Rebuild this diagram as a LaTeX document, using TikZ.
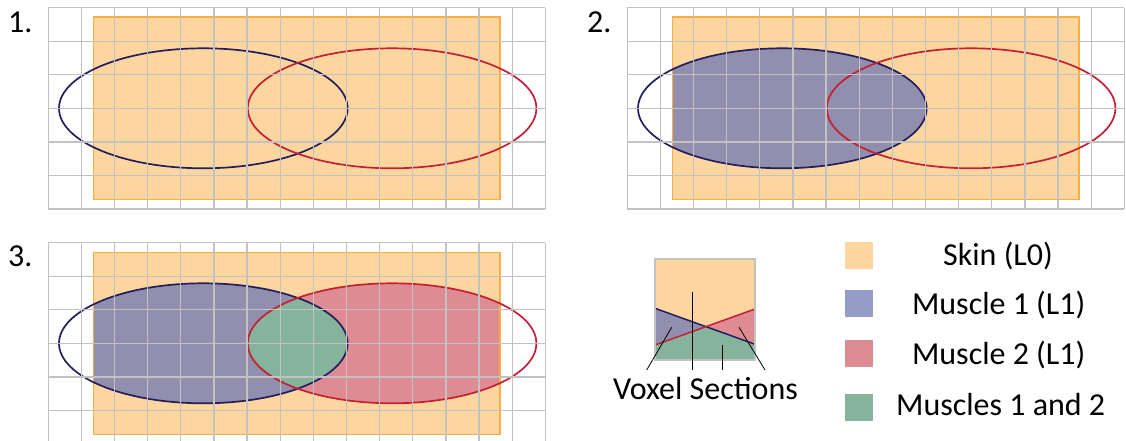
\documentclass[tikz,border=0pt]{standalone}
\usepackage{fontspec}
\setmainfont{Carlito}
\definecolor{skinfill}{HTML}{FCD69E}
\definecolor{skinedge}{HTML}{F8AE42}
\definecolor{gridgray}{HTML}{C2C2C2}
\definecolor{navy}{HTML}{231F5E}
\definecolor{crimson}{HTML}{C41F35}
\definecolor{purplefill}{HTML}{928EAE}
\definecolor{pinkfill}{HTML}{DE8B93}
\definecolor{greenfill}{HTML}{86B39B}
\definecolor{legpurple}{HTML}{959CC8}
\definecolor{legpink}{HTML}{DE8C94}
\tikzset{
  gridline/.style={draw=gridgray, line width=1.3pt},
  skinrect/.style={fill=skinfill},
  skinborder/.style={draw=skinedge, line width=1.6pt},
  blueline/.style={draw=navy, line width=1.7pt},
  redline/.style={draw=crimson, line width=1.7pt},
  bigtext/.style={font=\fontsize{32}{38}\selectfont, inner sep=0pt},
  pointer/.style={draw=black, line width=0.8pt},
  swatch/.style={minimum width=27.7pt, minimum height=27pt, inner sep=0pt, draw=none}
}
\newcommand{\skinpath}{(45,9.6) rectangle (451.7,191.6)}
\newcommand{\bluepath}{(155,100.6) ellipse [x radius=144.3pt, y radius=60pt]}
\newcommand{\redpath}{(343.8,100.6) ellipse [x radius=144.3pt, y radius=60pt]}
\newcommand{\gridlines}[1]{%
  \foreach \i in {0,...,15} \draw[gridline] ({\i*33.133},0) -- ({\i*33.133},#1);
  \foreach \j in {0,...,6} \draw[gridline] (0,{\j*33.55}) -- (497,{\j*33.55});
}
\begin{document}
\begin{tikzpicture}[x=1pt,y=-1pt]
\useasboundingbox (0,0) rectangle (1126,441);
% ---------- Panel 1 ----------
\begin{scope}[shift={(48.3,7.7)}]
  \fill[skinrect] \skinpath;
  \draw[skinborder] \skinpath;
  \draw[blueline] \bluepath;
  \draw[redline] \redpath;
  \gridlines{201.3}
\end{scope}
\node[bigtext, anchor=base west] (lab1) at (8,33) {1.};
% ---------- Panel 2 ----------
\begin{scope}[shift={(627.3,7.7)}]
  \fill[skinrect] \skinpath;
  \begin{scope}
    \clip \skinpath;
    \fill[purplefill] \bluepath;
  \end{scope}
  \draw[skinborder] \skinpath;
  \draw[blueline] \bluepath;
  \draw[redline] \redpath;
  \gridlines{201.3}
\end{scope}
\node[bigtext, anchor=base west] (lab2) at (587,33) {2.};
% ---------- Panel 3 ----------
\begin{scope}[shift={(48.3,242.7)}]
  \fill[skinrect] \skinpath;
  \begin{scope}
    \clip \skinpath;
    \fill[purplefill] \bluepath;
    \fill[pinkfill] \redpath;
    \clip \bluepath;
    \fill[greenfill] \redpath;
  \end{scope}
  \draw[skinborder] \skinpath;
  \draw[blueline] \bluepath;
  \draw[redline] \redpath;
  \gridlines{210}
\end{scope}
\node[bigtext, anchor=base west] (lab3) at (8,266) {3.};
% ---------- Voxel detail ----------
\fill[skinfill] (655,259) rectangle (755,360);
\fill[purplefill] (655,308.3) -- (705.2,326.6) -- (655,345) -- cycle;
\fill[pinkfill] (755,309) -- (705.2,326.6) -- (755,344.3) -- cycle;
\fill[greenfill] (655,345) -- (705.2,326.6) -- (755,344.3) -- (755,360) -- (655,360) -- cycle;
\draw[blueline, line width=1.5pt] (655,308.3) -- (755,344.3);
\draw[redline, line width=1.5pt] (655,345) -- (755,309);
\draw[draw=gridgray, line width=1.6pt] (655,259) rectangle (755,360);
\coordinate (p1a) at (646.7,370); \coordinate (p1b) at (671.7,327.3);
\coordinate (p2a) at (692.7,370); \coordinate (p2b) at (692.7,292.3);
\coordinate (p3a) at (722.3,370); \coordinate (p3b) at (722.3,345);
\coordinate (p4a) at (765,370);   \coordinate (p4b) at (739,327.3);
\draw[pointer] (p1a) -- (p1b);
\draw[pointer] (p2a) -- (p2b);
\draw[pointer] (p3a) -- (p3b);
\draw[pointer] (p4a) -- (p4b);
\node[bigtext, anchor=base] (voxel) at (705.5,399) {Voxel Sections};
% ---------- Legend ----------
\node[swatch, fill=skinfill] (sw1) at (858.8,255.8) {};
\node[swatch, fill=legpurple] (sw2) at (858.8,303.6) {};
\node[swatch, fill=legpink] (sw3) at (858.8,353.6) {};
\node[swatch, fill=greenfill] (sw4) at (858.8,407) {};
\node[bigtext, anchor=base] (t1) at (998,265.5) {Skin (L0)};
\node[bigtext, anchor=base] (t2) at (998.7,314) {Muscle 1 (L1)};
\node[bigtext, anchor=base] (t3) at (998.7,364) {Muscle 2 (L1)};
\node[bigtext, anchor=base] (t4) at (1000.7,415.7) {Muscles 1 and 2};
\end{tikzpicture}
\end{document}
